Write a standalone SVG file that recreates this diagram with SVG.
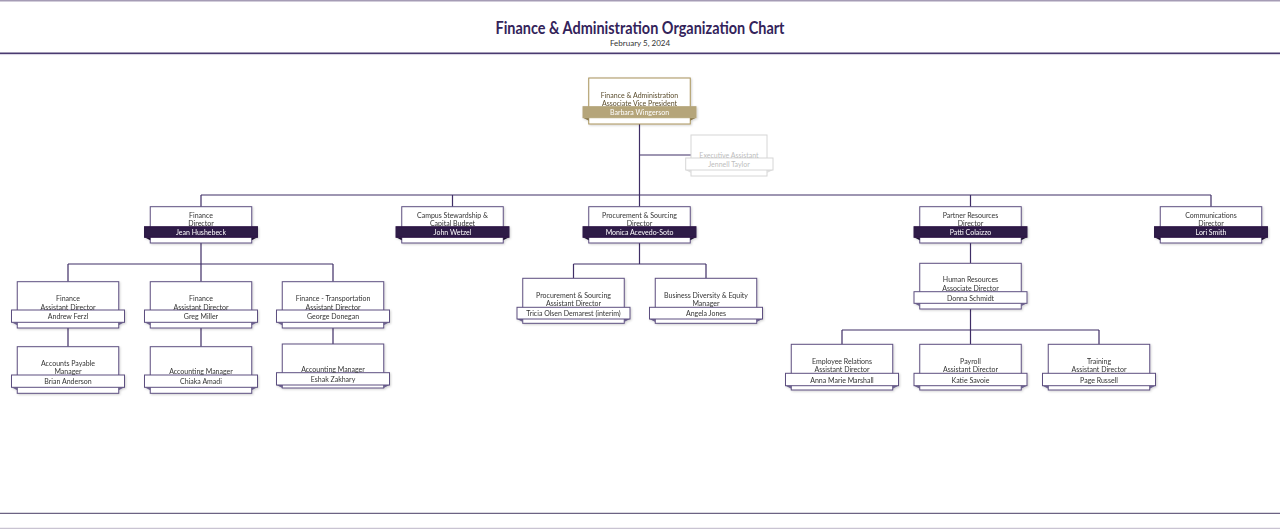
<svg xmlns="http://www.w3.org/2000/svg" width="1280" height="529" viewBox="0 0 1280 529">
<defs>
<style>
.bg{fill:#fff}
.box{fill:#fff;stroke:#5d4f80;stroke-width:1}
.band{fill:#fff;stroke:#5d4f80;stroke-width:1}
.bandd{fill:#2e1a47;stroke:#2e1a47;stroke-width:1}
.fold{fill:#6e6490}
.foldd{fill:#1a0f2e}
.t{font-family:Lato,"Open Sans","Liberation Sans",sans-serif;font-size:7px;fill:#333;text-anchor:middle;dominant-baseline:central}
.w{fill:#fff}
.c{fill:none;stroke:#3f2e66;stroke-width:1.2}
.gold .box{stroke:#a8925a}
.gold .bandd{fill:#b5a57a;stroke:#b5a57a}
.gold .foldd{fill:#8a7a4e}
.gold .t{fill:#5a4c2c}
.gold .t.w{fill:#fff}
.ghost .box,.ghost .band{stroke:#d6d6d6}
.ghost .fold{fill:#e0e0e0}
.ghost .t{fill:#bdbdbd}
</style>
<filter id="sh" x="-10%" y="-10%" width="130%" height="130%"><feDropShadow dx="1" dy="1" stdDeviation="0.8" flood-color="#000" flood-opacity="0.18"/></filter>
</defs>
<rect class="bg" x="0" y="0" width="1280" height="529"/>
<line x1="0" y1="0.75" x2="1280" y2="0.75" stroke="#a59cb5" stroke-width="1.5"/>
<line x1="0" y1="53.2" x2="1280" y2="53.2" stroke="#4a3a70" stroke-width="1.4"/>
<line x1="0" y1="54.6" x2="1280" y2="54.6" stroke="#d8d3e2" stroke-width="1"/>
<line x1="0" y1="513.3" x2="1280" y2="513.3" stroke="#6c6383" stroke-width="1.2"/>
<line x1="0" y1="528.3" x2="1280" y2="528.3" stroke="#c9c4d2" stroke-width="1.2"/>
<text x="640" y="34" font-family="Lato,'Open Sans',sans-serif" font-size="16.5" font-weight="bold" fill="#33235a" text-anchor="middle" textLength="289" lengthAdjust="spacingAndGlyphs">Finance &amp; Administration Organization Chart</text>
<text x="640" y="45.5" font-family="Lato,'Open Sans',sans-serif" font-size="8" fill="#333" text-anchor="middle">February 5, 2024</text>

<g id="connectors">
<path class="c" d="M639.5 124V207M639.5 155H691M201 195H1211M201 195V207M452.5 195V207M970.5 195V207M1211 195V207"/>
<path class="c" d="M201 243V264M68 264H333M68 264V281.7M201 264V281.7M333 264V281.7M68 328V346.7M201 328V346.7M333 328V344"/>
<path class="c" d="M639.5 243V264M573.5 264H706M573.5 264V278.3M706 264V278.3"/>
<path class="c" d="M970.5 243V263.3M970.5 309V344.3M842 330H1099M842 330V344.3M1099 330V344.3"/>
</g>

<g id="n-vp" class="gold" filter="url(#sh)">
<rect class="box" x="588.75" y="78" width="101.5" height="46"/>
<polygon class="foldd" points="583,117.7 588.75,117.7 588.75,120.7"/>
<polygon class="foldd" points="696,117.7 690.25,117.7 690.25,120.7"/>
<rect class="bandd" x="583" y="106.7" width="113" height="11"/>
<text class="t" x="639.5" y="95">Finance &amp; Administration</text>
<text class="t" x="639.5" y="103">Associate Vice President</text>
<text class="t w" x="639.5" y="112.2">Barbara Wingerson</text>
</g>

<g id="n-exec" class="ghost">
<rect class="box" x="691" y="135" width="76" height="41"/>
<polygon class="fold" points="685.7,170 691,170 691,173"/>
<polygon class="fold" points="773,170 767,170 767,173"/>
<rect class="band" x="685.7" y="158" width="87.3" height="12"/>
<text class="t" x="729" y="154.8">Executive Assistant</text>
<text class="t" x="729" y="164.3">Jennell Taylor</text>
</g>

<g id="n-finance" filter="url(#sh)">
<rect class="box" x="150.25" y="206.7" width="101.5" height="36.3"/>
<polygon class="foldd" points="144.5,237.3 150.25,237.3 150.25,240.3"/>
<polygon class="foldd" points="257.5,237.3 251.75,237.3 251.75,240.3"/>
<rect class="bandd" x="144.5" y="226.7" width="113" height="10.6"/>
<text class="t" x="201" y="214.5">Finance</text>
<text class="t" x="201" y="222.5">Director</text>
<text class="t w" x="201" y="232">Jean Hushebeck</text>
</g>

<g id="n-campus" filter="url(#sh)">
<rect class="box" x="401.75" y="206.7" width="101.5" height="36.3"/>
<polygon class="foldd" points="396,237.3 401.75,237.3 401.75,240.3"/>
<polygon class="foldd" points="509,237.3 503.25,237.3 503.25,240.3"/>
<rect class="bandd" x="396" y="226.7" width="113" height="10.6"/>
<text class="t" x="452.5" y="214.5">Campus Stewardship &amp;</text>
<text class="t" x="452.5" y="222.5">Capital Budget</text>
<text class="t w" x="452.5" y="232">John Wetzel</text>
</g>

<g id="n-procurement" filter="url(#sh)">
<rect class="box" x="588.75" y="206.7" width="101.5" height="36.3"/>
<polygon class="foldd" points="583,237.3 588.75,237.3 588.75,240.3"/>
<polygon class="foldd" points="696,237.3 690.25,237.3 690.25,240.3"/>
<rect class="bandd" x="583" y="226.7" width="113" height="10.6"/>
<text class="t" x="639.5" y="214.5">Procurement &amp; Sourcing</text>
<text class="t" x="639.5" y="222.5">Director</text>
<text class="t w" x="639.5" y="232">Monica Acevedo-Soto</text>
</g>

<g id="n-partner" filter="url(#sh)">
<rect class="box" x="919.75" y="206.7" width="101.5" height="36.3"/>
<polygon class="foldd" points="914,237.3 919.75,237.3 919.75,240.3"/>
<polygon class="foldd" points="1027,237.3 1021.25,237.3 1021.25,240.3"/>
<rect class="bandd" x="914" y="226.7" width="113" height="10.6"/>
<text class="t" x="970.5" y="214.5">Partner Resources</text>
<text class="t" x="970.5" y="222.5">Director</text>
<text class="t w" x="970.5" y="232">Patti Colaizzo</text>
</g>

<g id="n-comm" filter="url(#sh)">
<rect class="box" x="1160.25" y="206.7" width="101.5" height="36.3"/>
<polygon class="foldd" points="1154.5,237.3 1160.25,237.3 1160.25,240.3"/>
<polygon class="foldd" points="1267.5,237.3 1261.75,237.3 1261.75,240.3"/>
<rect class="bandd" x="1154.5" y="226.7" width="113" height="10.6"/>
<text class="t" x="1211" y="214.5">Communications</text>
<text class="t" x="1211" y="222.5">Director</text>
<text class="t w" x="1211" y="232">Lori Smith</text>
</g>

<g id="n-ferzl" filter="url(#sh)">
<rect class="box" x="17.25" y="281.7" width="101.5" height="46.3"/>
<polygon class="fold" points="11.5,322.3 17.25,322.3 17.25,325.3"/>
<polygon class="fold" points="124.5,322.3 118.75,322.3 118.75,325.3"/>
<rect class="band" x="11.5" y="310" width="113" height="12.3"/>
<text class="t" x="68" y="298">Finance</text>
<text class="t" x="68" y="306.5">Assistant Director</text>
<text class="t" x="68" y="316.3">Andrew Ferzl</text>
</g>

<g id="n-miller" filter="url(#sh)">
<rect class="box" x="150.25" y="281.7" width="101.5" height="46.3"/>
<polygon class="fold" points="144.5,322.3 150.25,322.3 150.25,325.3"/>
<polygon class="fold" points="257.5,322.3 251.75,322.3 251.75,325.3"/>
<rect class="band" x="144.5" y="310" width="113" height="12.3"/>
<text class="t" x="201" y="298">Finance</text>
<text class="t" x="201" y="306.5">Assistant Director</text>
<text class="t" x="201" y="316.3">Greg Miller</text>
</g>

<g id="n-donegan" filter="url(#sh)">
<rect class="box" x="282.25" y="281.7" width="101.5" height="46.3"/>
<polygon class="fold" points="276.5,322.3 282.25,322.3 282.25,325.3"/>
<polygon class="fold" points="389.5,322.3 383.75,322.3 383.75,325.3"/>
<rect class="band" x="276.5" y="310" width="113" height="12.3"/>
<text class="t" x="333" y="298">Finance - Transportation</text>
<text class="t" x="333" y="306.5">Assistant Director</text>
<text class="t" x="333" y="316.3">George Donegan</text>
</g>

<g id="n-anderson" filter="url(#sh)">
<rect class="box" x="17.25" y="346.7" width="101.5" height="46.6"/>
<polygon class="fold" points="11.5,387.3 17.25,387.3 17.25,390.3"/>
<polygon class="fold" points="124.5,387.3 118.75,387.3 118.75,390.3"/>
<rect class="band" x="11.5" y="375" width="113" height="12.3"/>
<text class="t" x="68" y="362.7">Accounts Payable</text>
<text class="t" x="68" y="371">Manager</text>
<text class="t" x="68" y="381.2">Brian Anderson</text>
</g>

<g id="n-amadi" filter="url(#sh)">
<rect class="box" x="150.25" y="346.7" width="101.5" height="46.6"/>
<polygon class="fold" points="144.5,387.3 150.25,387.3 150.25,390.3"/>
<polygon class="fold" points="257.5,387.3 251.75,387.3 251.75,390.3"/>
<rect class="band" x="144.5" y="375" width="113" height="12.3"/>
<text class="t" x="201" y="371">Accounting Manager</text>
<text class="t" x="201" y="381.2">Chiaka Amadi</text>
</g>

<g id="n-zakhary" filter="url(#sh)">
<rect class="box" x="282.25" y="344" width="101.5" height="44"/>
<polygon class="fold" points="276.5,385 282.25,385 282.25,388"/>
<polygon class="fold" points="389.5,385 383.75,385 383.75,388"/>
<rect class="band" x="276.5" y="372.7" width="113" height="12.3"/>
<text class="t" x="333" y="369.3">Accounting Manager</text>
<text class="t" x="333" y="378.9">Eshak Zakhary</text>
</g>

<g id="n-demarest" filter="url(#sh)">
<rect class="box" x="522.75" y="278.3" width="101.5" height="45"/>
<polygon class="fold" points="517,319 522.75,319 522.75,322"/>
<polygon class="fold" points="630,319 624.25,319 624.25,322"/>
<rect class="band" x="517" y="307.3" width="113" height="11.7"/>
<text class="t" x="573.5" y="295">Procurement &amp; Sourcing</text>
<text class="t" x="573.5" y="303.3">Assistant Director</text>
<text class="t" x="573.5" y="313.2">Tricia Olsen Demarest (interim)</text>
</g>

<g id="n-jones" filter="url(#sh)">
<rect class="box" x="655.25" y="278.3" width="101.5" height="45"/>
<polygon class="fold" points="649.5,319 655.25,319 655.25,322"/>
<polygon class="fold" points="762.5,319 756.75,319 756.75,322"/>
<rect class="band" x="649.5" y="307.3" width="113" height="11.7"/>
<text class="t" x="706" y="295">Business Diversity &amp; Equity</text>
<text class="t" x="706" y="303.3">Manager</text>
<text class="t" x="706" y="313.2">Angela Jones</text>
</g>

<g id="n-schmidt" filter="url(#sh)">
<rect class="box" x="919.75" y="263.3" width="101.5" height="45.7"/>
<polygon class="fold" points="914,303.3 919.75,303.3 919.75,306.3"/>
<polygon class="fold" points="1027,303.3 1021.25,303.3 1021.25,306.3"/>
<rect class="band" x="914" y="291.7" width="113" height="11.6"/>
<text class="t" x="970.5" y="279.3">Human Resources</text>
<text class="t" x="970.5" y="287.7">Associate Director</text>
<text class="t" x="970.5" y="297.6">Donna Schmidt</text>
</g>

<g id="n-marshall" filter="url(#sh)">
<rect class="box" x="791.25" y="344.3" width="101.5" height="45.7"/>
<polygon class="fold" points="785.5,385.7 791.25,385.7 791.25,388.7"/>
<polygon class="fold" points="898.5,385.7 892.75,385.7 892.75,388.7"/>
<rect class="band" x="785.5" y="373.3" width="113" height="12.4"/>
<text class="t" x="842" y="361">Employee Relations</text>
<text class="t" x="842" y="369.3">Assistant Director</text>
<text class="t" x="842" y="379.5">Anna Marie Marshall</text>
</g>

<g id="n-savoie" filter="url(#sh)">
<rect class="box" x="919.75" y="344.3" width="101.5" height="45.7"/>
<polygon class="fold" points="914,385.7 919.75,385.7 919.75,388.7"/>
<polygon class="fold" points="1027,385.7 1021.25,385.7 1021.25,388.7"/>
<rect class="band" x="914" y="373.3" width="113" height="12.4"/>
<text class="t" x="970.5" y="361">Payroll</text>
<text class="t" x="970.5" y="369.3">Assistant Director</text>
<text class="t" x="970.5" y="379.5">Katie Savoie</text>
</g>

<g id="n-russell" filter="url(#sh)">
<rect class="box" x="1048.25" y="344.3" width="101.5" height="45.7"/>
<polygon class="fold" points="1042.5,385.7 1048.25,385.7 1048.25,388.7"/>
<polygon class="fold" points="1155.5,385.7 1149.75,385.7 1149.75,388.7"/>
<rect class="band" x="1042.5" y="373.3" width="113" height="12.4"/>
<text class="t" x="1099" y="361">Training</text>
<text class="t" x="1099" y="369.3">Assistant Director</text>
<text class="t" x="1099" y="379.5">Page Russell</text>
</g>
</svg>
